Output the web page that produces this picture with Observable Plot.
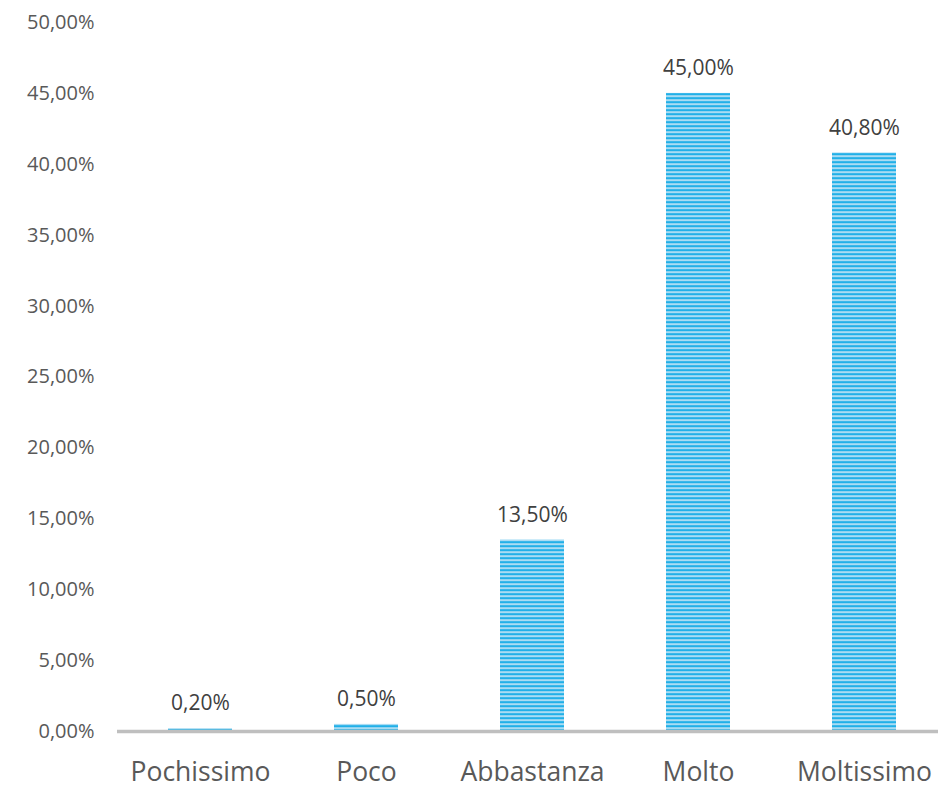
<!DOCTYPE html>
<html>
<head>
<meta charset="utf-8">
<script src="https://cdn.jsdelivr.net/npm/d3@7"></script>
<script src="https://cdn.jsdelivr.net/npm/@observablehq/plot@0.6"></script>
<style>
  html, body { margin: 0; padding: 0; background: #fff; }
  #chart { width: 938px; height: 788px; }
</style>
</head>
<body>
<div id="chart"></div>
<script>
const categories = ["Pochissimo", "Poco", "Abbastanza", "Molto", "Moltissimo"];
const values = [0.20, 0.50, 13.50, 45.00, 40.80];
const yTicks = [0, 5, 10, 15, 20, 25, 30, 35, 40, 45, 50];

const data = categories.map((c, i) => ({ cat: c, value: values[i] }));
const fmt = v => v.toFixed(2).replace(".", ",") + "%";
const font = "'Open Sans', 'Noto Sans', sans-serif";

const chart = Plot.plot({
  width: 938,
  height: 788,
  marginTop: 22,
  marginBottom: 57,
  marginLeft: 117,
  marginRight: 0,
  style: { fontFamily: font, background: "#ffffff", overflow: "visible" },
  x: { domain: categories, range: [117, 947], paddingInner: 0.615, paddingOuter: 0.3075, label: null },
  y: { domain: [0, 50], label: null },
  marks: [
    Plot.barY(data, { x: "cat", y: "value", fill: "url(#stripes)" }),
    Plot.ruleY([0], { stroke: "#bfbfbf", strokeWidth: 3.5 }),
    Plot.text(data, { x: "cat", y: "value", text: d => fmt(d.value), dy: -25, fill: "#404040", fontSize: 21 }),
    Plot.axisY({ ticks: yTicks, tickFormat: fmt, tickSize: 0, tickPadding: 23, fontSize: 20, fill: "#595959", label: null }),
    Plot.axisX({ tickSize: 0, tickPadding: 31, fontSize: 26.5, fill: "#595959", label: null })
  ]
});

const svgNS = "http://www.w3.org/2000/svg";
const defs = document.createElementNS(svgNS, "defs");
defs.innerHTML = `
  <pattern id="stripes" patternUnits="userSpaceOnUse" width="8" height="4">
    <rect x="0" y="0" width="8" height="4" fill="#a9dcf3"/>
    <rect x="0" y="1.2" width="8" height="2" fill="#20b0e8"/>
  </pattern>`;
chart.insertBefore(defs, chart.firstChild);
document.getElementById("chart").appendChild(chart);
</script>
</body>
</html>
